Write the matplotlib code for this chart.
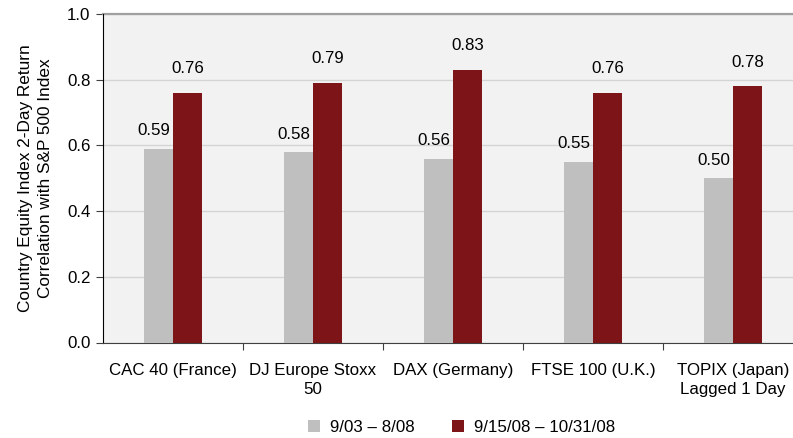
import numpy as np
import matplotlib.pyplot as plt

plt.rcParams["font.family"] = ["Liberation Sans", "DejaVu Sans"]

categories = ["CAC 40 (France)", "DJ Europe Stoxx\n50", "DAX (Germany)",
              "FTSE 100 (U.K.)", "TOPIX (Japan)\nLagged 1 Day"]
series_names = ["9/03 \u2013 8/08", "9/15/08 \u2013 10/31/08"]
before = [0.59, 0.58, 0.56, 0.55, 0.50]
crisis = [0.76, 0.79, 0.83, 0.76, 0.78]

GREY = "#bfbfbf"
RED = "#7d1518"
BG = "#f2f2f2"
FS = 12.2

fig = plt.figure(figsize=(7.93, 4.38), dpi=100)
ax = fig.add_axes([103 / 793, 95.5 / 438, 1 - 103 / 793, 328.5 / 438])
ax.set_facecolor(BG)

x = np.arange(len(categories))
w = 0.21
b1 = ax.bar(x - w / 2, before, w, color=GREY, label=series_names[0], zorder=3)
b2 = ax.bar(x + w / 2, crisis, w, color=RED, label=series_names[1], zorder=3)

for rect, v in zip(b1, before):
    ax.annotate(f"{v:.2f}", (rect.get_x() + rect.get_width() / 2, v),
                xytext=(-3, 7.5), textcoords="offset points",
                ha="center", va="bottom", fontsize=FS)
for rect, v in zip(b2, crisis):
    ax.annotate(f"{v:.2f}", (rect.get_x() + rect.get_width() / 2, v),
                xytext=(0, 12), textcoords="offset points",
                ha="center", va="bottom", fontsize=FS)

ax.set_ylim(0, 1.0)
ax.set_yticks(np.arange(0, 1.01, 0.2))
ax.set_yticklabels([f"{t:.1f}" for t in np.arange(0, 1.01, 0.2)], fontsize=FS)
ax.yaxis.grid(True, color="#d4d4d4", linewidth=1, zorder=0)
ax.set_axisbelow(True)

ax.set_xlim(-0.5, 4.5 - 10 / 140)
ax.set_xticks(np.arange(0.5, 4.5, 1.0))
ax.set_xticklabels([])
ax.set_xticks(x, minor=True)
ax.set_xticklabels(categories, minor=True, fontsize=FS, ha="center",
                   linespacing=1.3)
ax.tick_params(axis="x", which="minor", length=0, pad=15)
ax.tick_params(axis="x", which="major", length=5, direction="out", color="#404040")
ax.tick_params(axis="y", length=5, direction="out", color="#404040", pad=4)

for s in ["top", "right"]:
    ax.spines[s].set_visible(False)
ax.axhline(1.0, color="#a0a0a0", linewidth=1.6, zorder=2, clip_on=False)
ax.spines["left"].set_color("#000000")
ax.spines["bottom"].set_color("#404040")

ax.set_ylabel("Country Equity Index 2-Day Return\nCorrelation with S&P 500 Index",
              fontsize=12.4, labelpad=10, linespacing=1.45)

fig.legend(handles=[b1, b2], labels=series_names, loc="center",
           bbox_to_anchor=(462 / 793, 1 - 427 / 438), ncol=2, frameon=False,
           fontsize=FS, handlelength=0.7, handleheight=0.7, columnspacing=2.2,
           handletextpad=0.6)

fig.savefig("out.png", dpi=100)
